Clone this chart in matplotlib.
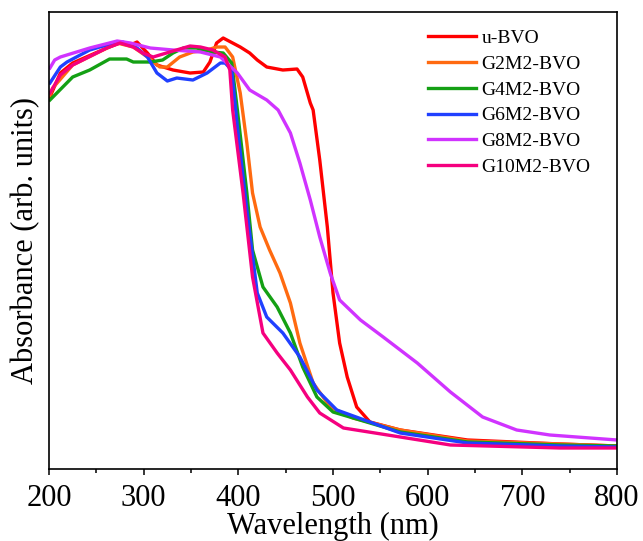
"""UV-vis absorbance spectra of BVO samples."""

import numpy as np
import matplotlib
matplotlib.use("Agg")  # non-interactive backend
import matplotlib.pyplot as plt
from matplotlib.ticker import MultipleLocator

plt.rcParams["font.family"] = ["Liberation Serif", "DejaVu Serif"]

# Wavelength (nm) and absorbance (arb. units)
wl_u = [201, 212, 225, 261, 275, 286, 293, 296, 304, 314, 331, 349, 363, 370, 377,
        384, 402, 412, 420, 430, 447, 462, 468, 476, 479, 486, 494, 500, 507, 515,
        525, 539, 571, 642, 740, 800]
abs_u = [372, 396, 406, 421, 426, 424, 427, 424, 416, 404, 399, 396, 397, 407, 426,
         431, 422, 416, 409, 402, 399, 400, 392, 366, 359, 309, 242, 176, 126, 92,
         62, 47, 39, 29, 25, 23]

wl_g2 = [201, 204, 225, 272, 289, 304, 317, 325, 338, 352, 367, 377, 386, 394, 402,
         409, 415, 423, 433, 444, 455, 465, 479, 497, 521, 571, 642, 740, 800]
abs_g2 = [374, 381, 404, 426, 422, 412, 402, 402, 412, 417, 419, 422, 422, 412, 376,
          326, 276, 242, 219, 196, 166, 126, 86, 62, 51, 39, 28, 25, 23]

wl_g4 = [201, 225, 243, 264, 282, 289, 307, 320, 331, 342, 356, 373, 384, 393, 399,
         409, 415, 426, 441, 455, 468, 483, 500, 571, 642, 740, 800]
abs_g4 = [369, 392, 399, 410, 410, 407, 407, 409, 416, 421, 421, 417, 416, 406, 359,
          276, 219, 182, 162, 136, 102, 72, 57, 37, 27, 24, 23]

wl_g6 = [201, 212, 219, 243, 268, 278, 293, 304, 314, 325, 335, 352, 367, 381, 386,
         393, 399, 409, 420, 430, 447, 465, 483, 504, 571, 642, 740, 800]
abs_g6 = [386, 402, 407, 419, 426, 427, 421, 412, 396, 388, 391, 389, 396, 406, 406,
          399, 342, 259, 176, 152, 136, 112, 79, 59, 36, 26, 23, 22]

wl_g8 = [201, 206, 212, 243, 272, 286, 307, 331, 360, 381, 399, 412, 430, 442, 455,
         465, 476, 486, 497, 507, 529, 553, 589, 624, 658, 694, 729, 800]
abs_g8 = [401, 409, 412, 421, 428, 426, 421, 419, 417, 412, 396, 379, 369, 359, 336,
          306, 269, 232, 196, 169, 149, 132, 106, 77, 52, 39, 34, 29]

wl_g10 = [201, 212, 225, 261, 275, 289, 299, 310, 331, 349, 360, 373, 386, 391, 394,
          405, 415, 426, 441, 455, 473, 486, 511, 571, 624, 740, 800]
abs_g10 = [376, 394, 404, 421, 426, 422, 416, 412, 418, 423, 422, 419, 412, 399, 359,
           276, 192, 136, 116, 99, 72, 56, 41, 32, 24, 21, 21]

labels = ["u-BVO", "G2M2-BVO", "G4M2-BVO", "G6M2-BVO", "G8M2-BVO", "G10M2-BVO"]
colors = ["#ff0000", "#ff6a10", "#14a014", "#2040ff", "#d033ff", "#f5007f"]

series = [(wl_u, abs_u), (wl_g2, abs_g2), (wl_g4, abs_g4),
          (wl_g6, abs_g6), (wl_g8, abs_g8), (wl_g10, abs_g10)]

fig = plt.figure(figsize=(6.43, 5.41), dpi=100)
ax = fig.add_axes([0.0762, 0.1331, 0.8834, 0.8447])

for (x, y), lab, col in zip(series, labels, colors):
    ax.plot(x, y, color=col, lw=2.4, label=lab, solid_joinstyle="round")

ax.set_xlim(200, 800)
ax.set_ylim(0, 457)
ax.xaxis.set_major_locator(MultipleLocator(100))
ax.xaxis.set_minor_locator(MultipleLocator(50))
ax.tick_params(axis="x", which="major", direction="out", length=4, width=1.1,
               labelsize=22, pad=7)
ax.tick_params(axis="x", which="minor", direction="out", length=3, width=1.1)
ax.set_yticks([])
for sp in ax.spines.values():
    sp.set_linewidth(1.2)

ax.set_xlabel("Wavelength (nm)", fontsize=22, labelpad=-1)
ax.set_ylabel("Absorbance (arb. units)", fontsize=22, labelpad=6)

ax.legend(loc="upper left", bbox_to_anchor=(0.667, 0.962), frameon=False,
          fontsize=14, handlelength=2.45, handletextpad=0.3,
          labelspacing=0.42, borderpad=0, borderaxespad=0)

plt.savefig("out.png", dpi=100)
plt.close()
